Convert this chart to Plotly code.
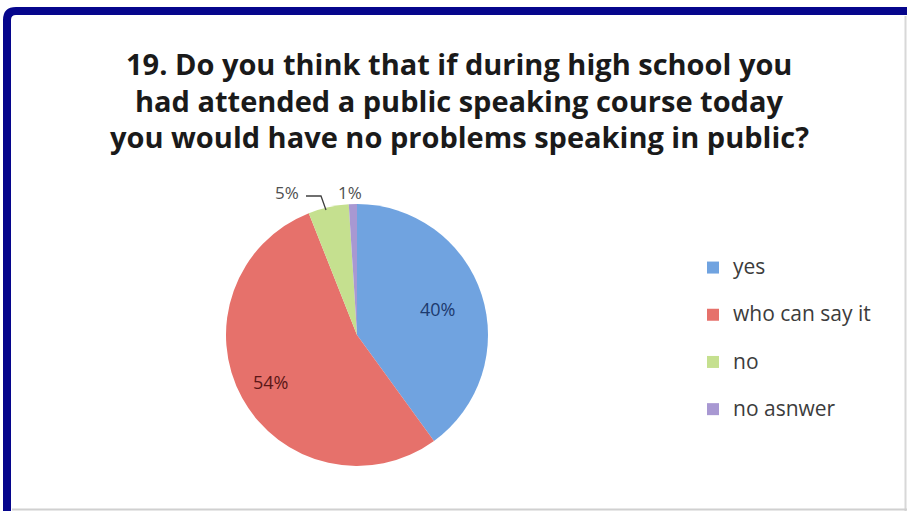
import math
import plotly.graph_objects as go

# Survey answers, in drawing order (clockwise from 12 o'clock)
categories = ["yes", "who can say it", "no", "no asnwer"]
shares = [40, 54, 5, 1]
colors = ["#70a3e0", "#e6716b", "#c5e08f", "#a898d2"]
value_label_colors = ["#1d3a6e", "#5a1717", "#505050", "#505050"]

title_lines = [
    "19. Do you think that if during high school you",
    "had attended a public speaking course today",
    "you would have no problems speaking in public?",
]

W, H = 907, 511
FONT = "Open Sans"


def px(x):
    return x / W


def py(y):
    return 1 - y / H


# pie centre and radius in pixels
cx, cy, r = 357, 335, 131

fig = go.Figure(
    go.Pie(
        labels=[f"<span style='font-size:21px'>{c}</span><br>\u00a0" for c in categories],
        customdata=categories,
        values=shares,
        sort=False,
        direction="clockwise",
        rotation=0,
        marker=dict(colors=colors, line=dict(width=0)),
        textinfo="none",
        domain=dict(x=[px(cx - r), px(cx + r)], y=[py(cy + r), py(cy - r)]),
        hovertemplate="%{customdata}: %{value}%<extra></extra>",
    )
)

# value labels for the two large slices, placed along each slice's mid-angle
total = sum(shares)
label_radius_frac = [0.65, 0.75]
start = 0.0
for i, frac in enumerate(label_radius_frac):
    mid = (start + shares[i] / 2) / total * 2 * math.pi
    start += shares[i]
    lx = cx + frac * r * math.sin(mid)
    ly = cy - frac * r * math.cos(mid)
    fig.add_annotation(
        x=px(lx), y=py(ly), xref="paper", yref="paper",
        xanchor="center", yanchor="middle",
        text=f"{shares[i]}%", showarrow=False,
        font=dict(size=18, color=value_label_colors[i], family=FONT),
    )

# outside callouts for the two thin slices
for i, (lx, ly) in zip([2, 3], [(287, 192), (350, 192)]):
    fig.add_annotation(
        x=px(lx), y=py(ly), xref="paper", yref="paper",
        xanchor="center", yanchor="middle",
        text=f"{shares[i]}%", showarrow=False,
        font=dict(size=17, color=value_label_colors[i], family=FONT),
    )
leader = [(306, 196), (321, 196), (326, 210)]
fig.add_shape(
    type="path", xref="paper", yref="paper",
    path="M " + " L ".join(f"{px(x):.5f},{py(y):.5f}" for x, y in leader),
    line=dict(color="#404040", width=1.3),
)

# three-line bold title
for line, ty in zip(title_lines, [63, 100, 137]):
    fig.add_annotation(
        x=px(459), y=py(ty), xref="paper", yref="paper",
        xanchor="center", yanchor="middle",
        text=line, showarrow=False,
        font=dict(family=FONT, size=29, color="#1a1a1a", weight="bold"),
    )

# frame: navy band along top and left with a rounded corner, faint grey edges
fig.add_shape(
    type="path", xref="paper", yref="paper",
    path=(f"M {px(7)},{py(530)} L {px(7)},{py(20)} "
          f"Q {px(7)},{py(11)} {px(16)},{py(11)} L {px(930)},{py(11)}"),
    line=dict(color="#06068c", width=8),
)
fig.add_shape(
    type="line", xref="paper", yref="paper",
    x0=px(905.5), x1=px(905.5), y0=py(16), y1=py(511),
    line=dict(color="#d8d8d8", width=2),
)
fig.add_shape(
    type="line", xref="paper", yref="paper",
    x0=px(12), x1=px(907), y0=py(509.5), y1=py(509.5),
    line=dict(color="#d0d0d0", width=2),
)

fig.update_layout(
    width=W,
    height=H,
    margin=dict(l=0, r=0, t=0, b=0),
    paper_bgcolor="white",
    plot_bgcolor="white",
    legend=dict(
        x=px(693),
        xanchor="left",
        y=py(250),
        yanchor="top",
        valign="top",
        font=dict(family=FONT, size=17, color="#3c3c3c"),
        bgcolor="rgba(0,0,0,0)",
    ),
    showlegend=True,
)

fig.write_html("out.html")
